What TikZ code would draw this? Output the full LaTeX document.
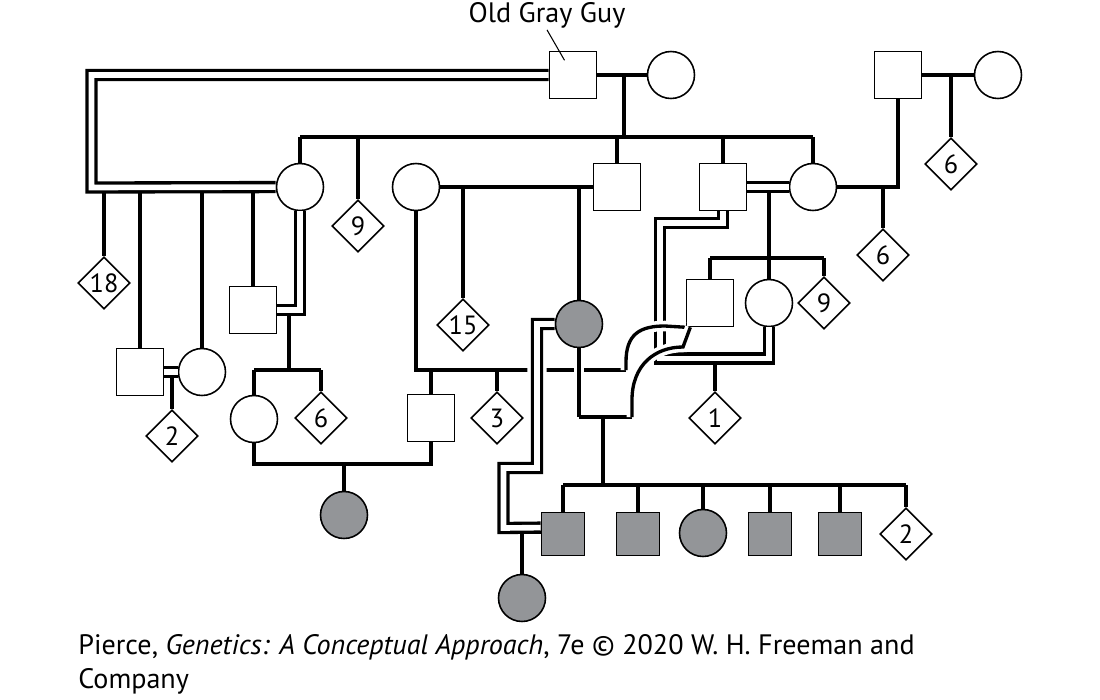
\documentclass[tikz,border=0pt]{standalone}
\usepackage{fontspec}
\setmainfont{PT Sans}
\usepackage{tikz}
\usetikzlibrary{shapes.geometric}
\definecolor{affgray}{RGB}{147,149,152}
\newcommand\pedfont{\fontsize{16}{19.5}\selectfont}
\newcommand\numfont{\fontsize{15}{15}\selectfont}

\begin{document}
\begin{tikzpicture}[
        x=0.02cm, y=-0.02cm,
        person/.style={draw, inner sep=0pt, line width=0.9pt, fill=white},
        male/.style={person, rectangle, minimum size=9.4mm},
        female/.style={person, circle, minimum size=9.4mm},
        unkn/.style={person, diamond, minimum size=10.4mm, font=\numfont},
        affmale/.style={male, fill=affgray, minimum size=8.6mm},
        afffemale/.style={female, fill=affgray},
        link/.style={line width=1.9pt},
        cons/.style={link, double, double distance=3.2pt},
        hop/.style={preaction={draw=white, line width=6pt}},
        conshop/.style={cons, preaction={draw=white, line width=11pt}}
    ]
    \useasboundingbox (0,0) rectangle (1100,700);

    % generation I
    \node[male]   (ogg) at (573,75) {};
    \node[female] (ogw) at (671,75) {};
    \node[male]   (rm)  at (898,75) {};
    \node[female] (rw)  at (998,75) {};
    \node[unkn]   (u6a) at (951,164) {6};
    \node[font=\pedfont, anchor=base, inner sep=1pt] (lbl) at (547,22) {Old Gray Guy};

    % generation II
    \node[female] (a)   at (300,187) {};
    \node[unkn]   (u9a) at (358,226) {9};
    \node[female] (b)   at (416,187) {};
    \node[male]   (c)   at (617,187) {};
    \node[male]   (g)   at (723,187) {};
    \node[female] (h)   at (813,187) {};
    \node[unkn]   (u6b) at (883,255) {6};

    % generation III
    \node[unkn]   (u18) at (104,283) {18};
    \node[male]   (l)   at (140,372) {};
    \node[female] (m)   at (202,372) {};
    \node[male]   (n)   at (253,310) {};
    \node[unkn]   (u2a) at (172,436) {2};
    \node[female] (o)   at (254,419) {};
    \node[unkn]   (u6c) at (321,418) {6};
    \node[unkn]   (u15) at (463,325) {15};
    \node[afffemale] (e) at (579,324) {};
    \node[male]   (f)   at (431,418) {};
    \node[unkn]   (u3)  at (497,418) {3};
    \node[male]   (d)   at (710,303) {};
    \node[female] (i)   at (769,303) {};
    \node[unkn]   (u9b) at (824,303) {9};
    \node[unkn]   (u1)  at (715,418) {1};

    % generations IV and V
    \node[afffemale] (p)  at (344,515) {};
    \node[affmale]   (j)  at (563,534) {};
    \node[affmale]   (s2) at (638,534) {};
    \node[afffemale] (c3) at (703,533) {};
    \node[affmale]   (s4) at (770,534) {};
    \node[affmale]   (s5) at (840,534) {};
    \node[unkn]      (u2b) at (906,534) {2};
    \node[afffemale] (k)  at (522,598) {};

    \node[font=\pedfont, anchor=north west, align=left, inner sep=0pt] (cap) at (78,634)
        {Pierce, \textit{Genetics: A Conceptual Approach}, 7e © 2020 W. H. Freeman and\\Company};

    \coordinate (mar1) at (624,75);
    \coordinate (sib1) at (624,137);
    \coordinate (mar2) at (951,75);
    \coordinate (mar3) at (883,187);
    \coordinate (mar4) at (769,188);
    \coordinate (sib3) at (769,258);
    \coordinate (cnr1) at (91.5,75);
    \coordinate (cnr2) at (91.5,187.5);
    \coordinate (mar5) at (289,310);
    \coordinate (sib5) at (289,370);
    \coordinate (mar6) at (172,372);
    \coordinate (mar7) at (344,464);
    \coordinate (sib4) at (626,370);
    \coordinate (cv2)  at (632,417);
    \coordinate (mar9) at (603,417);
    \coordinate (sib9) at (603,485);
    \coordinate (gi1)  at (660,223);
    \coordinate (gi2)  at (660,358.5);
    \coordinate (ej1)  at (537,324);
    \coordinate (ej2)  at (537,468);
    \coordinate (ej3)  at (503.5,468);
    \coordinate (ej4)  at (503.5,528);
    \coordinate (ej5)  at (503.5,533);

    \draw[line width=0.6pt, shorten >=3.4mm] (lbl.south) -- (ogg.center);

    \draw[link] (ogg) -- (ogw);
    \draw[link] (mar1) -- (sib1);
    \draw[link] (a |- sib1) -- (h |- sib1);
    \foreach \k in {a,u9a,c,g,h}
        \draw[link] (\k |- sib1) -- (\k);

    \draw[link] (rm) -- (rw);
    \draw[link] (mar2) -- (u6a);
    \draw[link] (h) -- (h -| rm) -- (rm);
    \draw[link] (mar3) -- (u6b);

    \foreach \k in {u18,l,m,n}
        \draw[link] (\k |- cnr2) -- (\k);
    \draw[cons] (ogg) -- (cnr1) -- (cnr2) -- (a);

    \draw[link] (mar5) -- (sib5);
    \draw[link] (o |- sib5) -- (u6c |- sib5);
    \foreach \k in {o,u6c}
        \draw[link] (\k |- sib5) -- (\k);
    \draw[cons] (a) -- (a |- n) -- (n);

    \draw[link] (mar6) -- (u2a);
    \draw[cons] (l) -- (m);

    \draw[link] (o) -- (o |- mar7) -- (f |- mar7) -- (f);
    \draw[link] (mar7) -- (p);

    \draw[link] (b) -- (c);
    \draw[link] (u15 |- b) -- (u15);
    \draw[link] (e |- b) -- (e);

    \draw[link] (mar4) -- (sib3);
    \draw[cons] (g) -- (h);
    \draw[link] (d |- sib3) -- (u9b |- sib3);
    \foreach \k in {d,i,u9b}
        \draw[link] (\k |- sib3) -- (\k);

    \draw[link] (u1 |- gi2) -- (u1);
    \draw[cons] (g) -- (g |- gi1) -- (gi1) -- (gi2) -- (i |- gi2) -- (i);

    \draw[link] (b) -- (b |- sib4) -- (sib4);
    \draw[link] (f |- sib4) -- (f);
    \draw[link] (u3 |- sib4) -- (u3);

    \draw[link, hop] (e) -- (e |- cv2);
    \draw[link] (e |- cv2) -- (cv2);
    \draw[link] (mar9) -- (sib9);
    \draw[link] (j |- sib9) -- (u2b |- sib9);
    \foreach \k in {j,s2,c3,s4,s5,u2b}
        \draw[link] (\k |- sib9) -- (\k);

    \draw[conshop] (e) -- (ej1) -- (ej2) -- (ej3) -- (ej4) -- (j.164);
    \draw[link] (k |- ej5) -- (k);

    \draw[link, hop] (sib4) -- (626,362) .. controls (626,334) and (640,326) .. (665,326) -- (d.south west);
    \draw[link, hop] (cv2) -- (632,400) .. controls (632,365) and (655,347) .. (683,347) -- (d.-129);
\end{tikzpicture}
\end{document}
